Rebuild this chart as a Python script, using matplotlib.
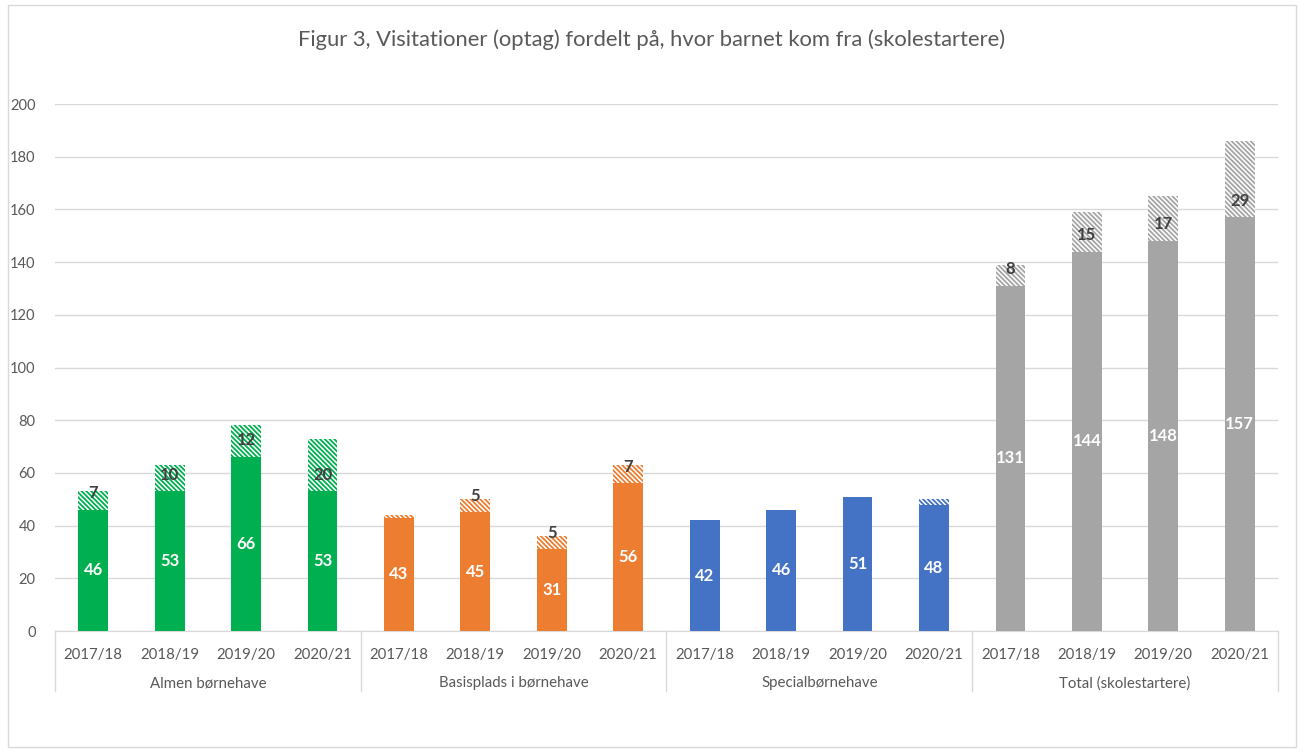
import matplotlib.pyplot as plt
from matplotlib.patches import Rectangle
import matplotlib.transforms as mtransforms

plt.rcParams['font.family'] = ['Lato', 'DejaVu Sans']
plt.rcParams['hatch.linewidth'] = 1.3

# data
years = ['2017/18', '2018/19', '2019/20', '2020/21']
groups = ['Almen børnehave', 'Basisplads i børnehave', 'Specialbørnehave', 'Total (skolestartere)']
almen_base = [46, 53, 66, 53]
almen_top = [7, 10, 12, 20]
basis_base = [43, 45, 31, 56]
basis_top = [1, 5, 5, 7]
special_base = [42, 46, 51, 48]
special_top = [0, 0, 0, 2]
total_base = [131, 144, 148, 157]
total_top = [8, 15, 17, 29]

colors = ['#00B050', '#ED7D31', '#4472C4', '#A5A5A5']
bases = [almen_base, basis_base, special_base, total_base]
tops = [almen_top, basis_top, special_top, total_top]

fig = plt.figure(figsize=(13.04, 7.52), dpi=100)
fig.patches.append(Rectangle((0.006, 0.006), 0.988, 0.988, transform=fig.transFigure,
                             fill=False, edgecolor='#D9D9D9', linewidth=1))
ax = fig.add_axes([0.0422, 0.1609, 0.9378, 0.7008])

fig.text(0.5, 0.947, 'Figur 3, Visitationer (optag) fordelt på, hvor barnet kom fra (skolestartere)',
         ha='center', va='center', fontsize=15.8, color='#595959')

width = 0.39
n = len(years)
for g in range(len(groups)):
    xs = [g * n + i for i in range(n)]
    ax.bar(xs, bases[g], width=width, color=colors[g], zorder=3)
    # hatched top segment
    ax.bar(xs, tops[g], width=width, bottom=bases[g], facecolor='white',
           edgecolor=colors[g], hatch='\\' * 7, linewidth=0, zorder=3)
    for x, b, t in zip(xs, bases[g], tops[g]):
        ax.text(x, b / 2, str(b), ha='center', va='center', color='white',
                fontsize=12, fontweight='bold', zorder=4)
        if t > 2:
            ax.text(x, b + 6.3, str(t), ha='center', va='center', color='#404040',
                    fontsize=12, fontweight='bold', zorder=4)

ax.set_xlim(-0.5, len(groups) * n - 0.5)
ax.set_ylim(0, 200)
ax.set_yticks(range(0, 201, 20))
ax.yaxis.grid(True, color='#D9D9D9', linewidth=1, zorder=0)
ax.set_axisbelow(True)
for s in ['top', 'right', 'left']:
    ax.spines[s].set_visible(False)
ax.spines['bottom'].set_color('#D9D9D9')
ax.tick_params(axis='y', length=0, labelsize=10.5, labelcolor='#595959', pad=14)
ax.set_xticks(range(len(groups) * n))
ax.set_xticklabels(years * len(groups))
ax.tick_params(axis='x', length=0, labelsize=10.8, labelcolor='#595959', pad=12)

# group labels and dividers under the year labels
trans = mtransforms.blended_transform_factory(ax.transData, ax.transAxes)
for g, name in enumerate(groups):
    ax.text(g * n + (n - 1) / 2, -0.099, name, transform=trans, ha='center', va='center',
            fontsize=10.8, color='#595959')
for g in range(len(groups) + 1):
    xd = g * n - 0.5
    ax.plot([xd, xd], [0, -0.113], transform=trans, color='#D9D9D9', linewidth=1, clip_on=False)

fig.savefig('out.png', dpi=100)
